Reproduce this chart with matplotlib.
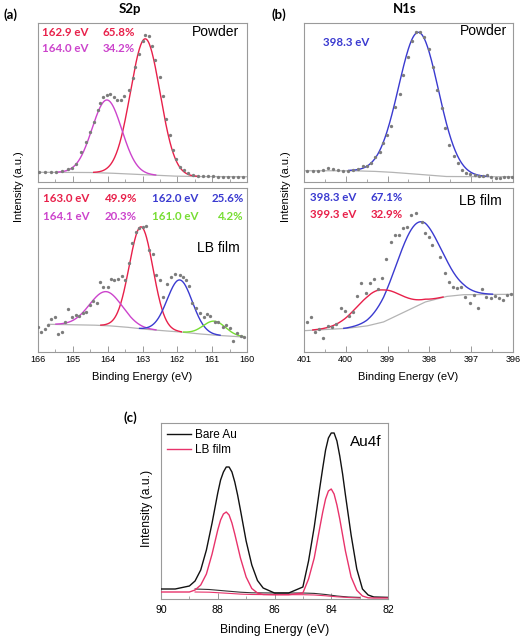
import numpy as np
import matplotlib
matplotlib.use("Agg")
import matplotlib.pyplot as plt

plt.rcParams['font.family'] = ['Liberation Sans', 'DejaVu Sans']

# ---- (a) S2p, powder ----
s_pow_x = [165.97, 165.81, 165.64, 165.48, 165.32, 165.15, 165.02, 164.90, 164.77, 164.62,
           164.50, 164.38, 164.29, 164.21, 164.12, 164.02, 163.92, 163.81, 163.73, 163.63,
           163.52, 163.40, 163.28, 163.21, 163.10, 163.00, 162.92, 162.82, 162.72, 162.63,
           162.51, 162.41, 162.32, 162.20, 162.13, 162.03, 161.93, 161.81, 161.69, 161.55,
           161.41, 161.27, 161.12, 160.98, 160.84, 160.69, 160.55, 160.41, 160.26, 160.12]
s_pow_y = [9.7, 9.7, 10, 10.3, 11, 12.7, 14.5, 18, 30, 40,
           50, 60, 72, 79, 85, 87, 88, 85.5, 82.5, 82,
           86, 92, 104, 115, 128, 141, 147, 146, 136, 122,
           105, 86, 63, 47, 32, 23, 15.5, 12, 9, 7.5,
           6.5, 6, 6, 5.7, 5.5, 5.3, 5.3, 5.3, 5.3, 5.3]
s_pow_bg_x = [166.0, 164.6, 164.0, 163.4, 162.8, 162.2, 161.6, 160.0]
s_pow_bg_y = [9.7, 9.6, 9.0, 8.0, 7.0, 6.0, 5.5, 5.3]
s_pow_pk = [162.92, 164.02]      # peak centres (eV)
s_pow_h = [136, 73]              # peak heights
s_pow_w = [1.0, 1.0]             # FWHM (eV)

# ---- (a) S2p, LB film ----
s_lb_x = [165.99, 165.90, 165.81, 165.71, 165.62, 165.52, 165.42, 165.32, 165.22, 165.13,
          165.03, 164.91, 164.82, 164.72, 164.61, 164.51, 164.41, 164.32, 164.22, 164.12,
          164.00, 163.90, 163.81, 163.69, 163.60, 163.50, 163.39, 163.30, 163.18, 163.09,
          162.99, 162.89, 162.80, 162.70, 162.61, 162.51, 162.41, 162.30, 162.17, 162.08,
          161.93, 161.84, 161.74, 161.66, 161.57, 161.45, 161.36, 161.24, 161.14, 161.05,
          160.92, 160.83, 160.70, 160.59, 160.49, 160.39, 160.28, 160.18, 160.09]
s_lb_y = [25.3, 20.3, 22.7, 27, 32.7, 35, 18, 20.3, 30.3, 42.7,
          34.7, 37, 36, 39.3, 40, 47, 50.7, 49.3, 70.3, 65.3,
          64.7, 72.7, 72, 72.7, 76, 72, 88.7, 108.7, 120.3, 123.7,
          124.7, 126, 102, 98, 77, 72, 54.7, 68, 75.3, 77.7,
          77, 75.3, 72, 66, 48.7, 43.7, 39.3, 35.3, 38, 36,
          30.3, 30.3, 25.3, 27, 23.7, 11.3, 18.7, 16, 15.3]
s_lb_bg_x = [165.7, 164.5, 164.0, 163.5, 163.0, 162.5, 162.0, 161.5, 161.0, 160.1]
s_lb_bg_y = [27.7, 27.0, 26.3, 25.0, 23.0, 21.5, 20.3, 18.5, 17.0, 15.0]
s_lb_pk = [163.04, 164.05, 161.93, 160.94]
s_lb_h = [102, 34, 52, 14]
s_lb_w = [0.8, 1.1, 0.85, 0.75]

# ---- (b) N1s, powder ----
n_pow_x = [400.92, 400.78, 400.67, 400.55, 400.43, 400.31, 400.19, 400.07, 399.95, 399.83,
           399.71, 399.59, 399.49, 399.39, 399.29, 399.19, 399.11, 399.01, 398.91, 398.82,
           398.71, 398.62, 398.51, 398.42, 398.33, 398.23, 398.14, 398.02, 397.91, 397.82,
           397.71, 397.62, 397.52, 397.42, 397.32, 397.21, 397.12, 397.02, 396.92, 396.82,
           396.72, 396.62, 396.52, 396.41, 396.32, 396.22, 396.12, 396.02]
n_pow_y = [11, 11, 11, 12.3, 14.3, 12.7, 12, 11.3, 11.3, 12,
           13.3, 16, 16.3, 18.7, 25.3, 30.3, 38.7, 47, 56.3, 74.7,
           88, 107, 125.3, 141, 149.7, 150.3, 144.7, 132.7, 115.3, 92,
           73.7, 53.7, 37, 26.3, 18.7, 12, 9.3, 8, 7, 6,
           6, 7, 4.7, 3.7, 3.7, 5.3, 5.3, 5.3]
n_pow_bg_x = [401.0, 399.9, 399.4, 399.0, 398.5, 398.0, 397.6, 397.0, 396.0]
n_pow_bg_y = [11.3, 11.3, 10.8, 10.0, 8.5, 6.8, 5.5, 5.3, 5.3]
n_pow_pk = [398.26]
n_pow_h = [142]
n_pow_w = [1.12]

# ---- (b) N1s, LB film ----
n_lb_x = [400.94, 400.84, 400.73, 400.64, 400.55, 400.43, 400.33, 400.23, 400.12, 400.03,
          399.93, 399.83, 399.73, 399.63, 399.52, 399.43, 399.33, 399.23, 399.13, 399.03,
          398.93, 398.83, 398.73, 398.63, 398.53, 398.43, 398.33, 398.18, 398.10, 398.01,
          397.94, 397.75, 397.63, 397.54, 397.44, 397.33, 397.24, 397.14, 397.04, 396.93,
          396.84, 396.73, 396.64, 396.53, 396.44, 396.33, 396.24, 396.14, 396.04]
n_lb_y = [29.7, 34.7, 20.3, 23, 13.7, 26, 25.3, 27.7, 44, 41,
          36.3, 40, 55.7, 68.7, 59.3, 68.7, 72.7, 62.7, 74.3, 93,
          109.7, 117, 117, 123.7, 124.7, 137, 139.3, 129.7, 119.3, 115.3,
          107, 95.3, 79.3, 69.7, 64.7, 64.3, 64.7, 55.3, 48.7, 57,
          43.7, 63, 55.3, 53.7, 56, 53.7, 52, 57.3, 58]
n_lb_bg_x = [401.0, 400.0, 399.5, 399.1, 398.6, 398.1, 397.6, 397.2, 396.0]
n_lb_bg_y = [21.3, 23.5, 26.0, 30.0, 40.0, 50.0, 55.5, 57.3, 57.7]
n_lb_pk = [398.27, 399.23]
n_lb_h = [83, 33]
n_lb_w = [1.25, 1.2]

# ---- (c) Au4f ----
au_x = [90, 89.5, 89.0, 88.8, 88.6, 88.4, 88.2, 88.0, 87.9, 87.8, 87.7, 87.6, 87.5, 87.4,
        87.3, 87.2, 87.0, 86.8, 86.6, 86.4, 86.0, 85.5, 85.0, 84.8, 84.6, 84.4, 84.3, 84.2,
        84.1, 84.0, 83.9, 83.8, 83.7, 83.6, 83.5, 83.3, 83.1, 82.9, 82.7, 82.5, 82.0]
au_bare = [10, 10, 13, 18, 29, 49, 76, 106, 119, 127, 132, 132, 127, 117,
           104, 89, 58, 34, 18.5, 11, 6, 6, 12, 38, 72, 112, 131, 149,
           161, 166, 166, 158, 143, 125, 104, 64, 30, 10, 4, 2, 1.6]
au_lb = [7, 7, 7, 9, 14, 25, 45, 69, 79, 85, 87, 84, 76, 65,
         53, 41, 22, 10.5, 6, 4.5, 4.3, 4.3, 6, 20, 41, 72, 87, 100,
         108, 110, 105, 94, 80, 64, 48, 22, 8.7, 3, 1.2, 1, 1]
au_bg_x = [88.8, 88.3, 87.7, 87.2, 86.8, 86.0, 85.0, 84.6, 84.2, 83.8, 83.4, 83.0]
au_bare_bg = [10, 9.5, 8, 6.8, 6.2, 6, 6, 5.6, 4.5, 3, 2, 1.6]
au_lb_bg = [7, 6.8, 5.8, 4.9, 4.5, 4.3, 4.3, 4.0, 3.2, 2.2, 1.5, 1.0]

RED = '#e8204a'
MAG = '#cc44cc'
BLUE = '#3a3ad0'
GREEN = '#77dd33'
GRAY = '#b4b4b4'
DOT = '#7c7c7c'
FRAME = '#9a9a9a'
W, H = 522, 638

fig = plt.figure(figsize=(5.22, 6.38), dpi=100)


def add_ax(l, t, r, b):
    # box in pixels of the reference
    return fig.add_axes([l / W, 1 - b / H, (r - l) / W, (b - t) / H])


def txt(x, y, s, **kw):
    kw.setdefault('va', 'center')
    return fig.text(x / W, 1 - y / H, s, **kw)


def style(ax, xlim, ylim, major, labels=True, size=6.5, pad=2.5):
    ax.set_xlim(*xlim)
    ax.set_ylim(*ylim)
    ax.set_yticks([])
    ax.set_xticks(major)
    ax.set_xticks(np.arange(min(xlim), max(xlim), 0.5 if size < 7 else 1.0), minor=True)
    ax.tick_params(axis='x', which='both', direction='in', color=FRAME, labelsize=size,
                   pad=pad, labelbottom=labels)
    ax.tick_params(axis='x', which='major', length=4, width=0.7)
    ax.tick_params(axis='x', which='minor', length=2.5, width=0.6)
    for sp in ax.spines.values():
        sp.set_color(FRAME)
        sp.set_linewidth(0.8)


def fit(ax, xr, bgx, bgy, pk, h, w, colors):
    xs = np.linspace(xr[0], xr[1], 500)
    bg = np.interp(xs, bgx[::-1], bgy[::-1])
    ax.plot(xs, bg, color=GRAY, lw=0.9, zorder=2)
    for c, hh, ww, col in zip(pk, h, w, colors):
        g = hh * np.exp(-4 * np.log(2) * (xs - c) ** 2 / ww ** 2)
        m = g > 0.3
        ax.plot(xs[m], bg[m] + g[m], color=col, lw=1.0, zorder=3)


def dots(ax, x, y):
    ax.plot(x, y, 'o', ms=2.4, color=DOT, mec='none', zorder=4)


# (a) S2p
a1 = add_ax(38, 23, 247, 182)
fit(a1, (166, 160), s_pow_bg_x, s_pow_bg_y, s_pow_pk, s_pow_h, s_pow_w, [RED, MAG])
dots(a1, s_pow_x, s_pow_y)
style(a1, (166, 160), (0, 159), range(160, 167), labels=False)

a2 = add_ax(38, 188, 247, 352)
fit(a2, (165.7, 160.1), s_lb_bg_x, s_lb_bg_y, s_lb_pk, s_lb_h, s_lb_w, [RED, MAG, BLUE, GREEN])
dots(a2, s_lb_x, s_lb_y)
style(a2, (166, 160), (0, 164), range(160, 167))

# (b) N1s
b1 = add_ax(304, 23, 513, 182)
fit(b1, (401, 396), n_pow_bg_x, n_pow_bg_y, n_pow_pk, n_pow_h, n_pow_w, [BLUE])
dots(b1, n_pow_x, n_pow_y)
style(b1, (401, 396), (0, 159), range(396, 402), labels=False)

b2 = add_ax(304, 188, 513, 352)
fit(b2, (401, 396), n_lb_bg_x, n_lb_bg_y, n_lb_pk, n_lb_h, n_lb_w, [BLUE, RED])
dots(b2, n_lb_x, n_lb_y)
style(b2, (401, 396), (0, 164), range(396, 402))

# (c) Au4f
c = add_ax(161, 423, 388, 599)
c.plot(au_x, au_bare, color='#111111', lw=1.0, label='Bare Au', zorder=3)
c.plot(au_x, au_lb, color='#e8336b', lw=1.0, label='LB film', zorder=3)
c.plot(au_bg_x, au_bare_bg, color='#333333', lw=0.8, zorder=2)
c.plot(au_bg_x, au_lb_bg, color='#e8336b', lw=0.8, zorder=2)
style(c, (90, 82), (0, 176), range(82, 91, 2), size=7.6, pad=4)
c.legend(loc='upper left', bbox_to_anchor=(0.0, 1.0), frameon=False, fontsize=8.5,
         handlelength=2.0, handletextpad=0.4, labelspacing=0.25, borderaxespad=0.3,
         borderpad=0.2)

# labels
bold = dict(family='Lato', weight='bold', fontsize=8.3)
txt(42, 32, '162.9 eV', color=RED, **bold)
txt(135, 32, '65.8%', color=RED, ha='right', **bold)
txt(42, 49, '164.0 eV', color=MAG, **bold)
txt(135, 49, '34.2%', color=MAG, ha='right', **bold)
txt(239, 32, 'Powder', ha='right', fontsize=10)

txt(43, 199, '163.0 eV', color=RED, **bold)
txt(137, 199, '49.9%', color=RED, ha='right', **bold)
txt(43, 216, '164.1 eV', color=MAG, **bold)
txt(137, 216, '20.3%', color=MAG, ha='right', **bold)
txt(152, 199, '162.0 eV', color=BLUE, **bold)
txt(244, 199, '25.6%', color=BLUE, ha='right', **bold)
txt(152, 216, '161.0 eV', color=GREEN, **bold)
txt(244, 216, '4.2%', color=GREEN, ha='right', **bold)
txt(240, 248, 'LB film', ha='right', fontsize=10)

txt(323, 42, '398.3 eV', color=BLUE, **bold)
txt(507, 31, 'Powder', ha='right', fontsize=10)
txt(310, 198, '398.3 eV', color=BLUE, **bold)
txt(403, 198, '67.1%', color=BLUE, ha='right', **bold)
txt(310, 215, '399.3 eV', color=RED, **bold)
txt(403, 215, '32.9%', color=RED, ha='right', **bold)
txt(502, 201, 'LB film', ha='right', fontsize=10)

txt(350, 442, 'Au4f', fontsize=11)

head = dict(family='Lato', weight='bold')
txt(130, 9, 'S2p', ha='center', fontsize=9.5, **head)
txt(405, 9, 'N1s', ha='center', fontsize=9.5, **head)
txt(4, 15, '(a)', fontsize=9.5, **head)
txt(272, 15, '(b)', fontsize=9.5, **head)
txt(124, 418, '(c)', fontsize=9.5, **head)

txt(142.5, 377, 'Binding Energy (eV)', ha='center', fontsize=8)
txt(408.5, 377, 'Binding Energy (eV)', ha='center', fontsize=8)
txt(19.5, 187, 'Intensity (a.u.)', ha='center', rotation=90, fontsize=8)
txt(286, 187, 'Intensity (a.u.)', ha='center', rotation=90, fontsize=8)
txt(274.5, 630, 'Binding Energy (eV)', ha='center', fontsize=8.7)
txt(147, 508, 'Intensity (a.u.)', ha='center', rotation=90, fontsize=8.7)

fig.savefig('out.png', dpi=100)
